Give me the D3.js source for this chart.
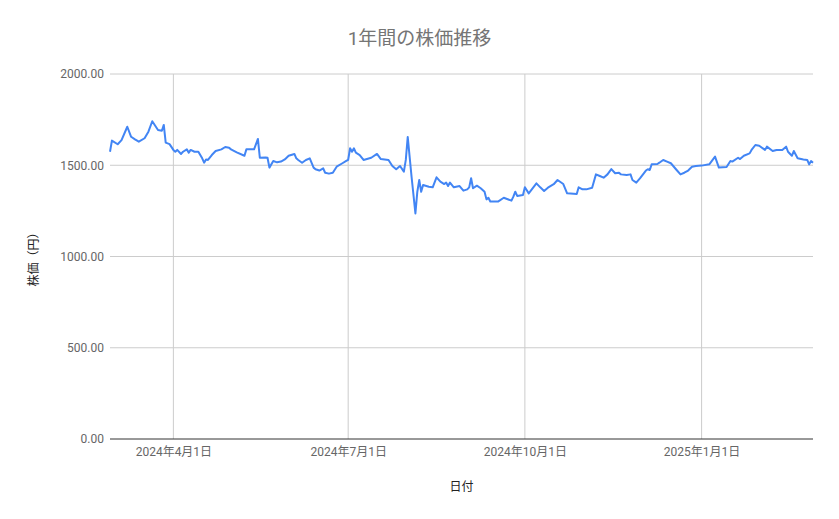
<!DOCTYPE html>
<html>
<head>
<meta charset="utf-8">
<script src="https://cdn.jsdelivr.net/npm/d3@7"></script>
<style>
  body { margin: 0; background: #fff; }
  svg { font-family: Roboto, "Noto Sans CJK JP", sans-serif; }
</style>
</head>
<body>
<svg id="chart" width="839" height="519"></svg>
<script>
// chart data
var titleText = '1年間の株価推移';
var xTitle = '日付';
var yTitle = '株価（円）';

var dates = [
  '2024-02-28','2024-02-29','2024-03-03','2024-03-05','2024-03-08','2024-03-10','2024-03-12','2024-03-14',
  '2024-03-17','2024-03-19','2024-03-21','2024-03-24','2024-03-26','2024-03-27','2024-03-28','2024-03-30',
  '2024-04-01','2024-04-02','2024-04-03','2024-04-05','2024-04-06','2024-04-08','2024-04-09','2024-04-10',
  '2024-04-12','2024-04-14','2024-04-16','2024-04-17','2024-04-18','2024-04-19','2024-04-21','2024-04-23',
  '2024-04-26','2024-04-28','2024-04-30','2024-05-01','2024-05-04','2024-05-08','2024-05-09','2024-05-13',
  '2024-05-15','2024-05-16','2024-05-19','2024-05-20','2024-05-21','2024-05-23','2024-05-25','2024-05-27',
  '2024-05-29','2024-05-31','2024-06-03','2024-06-04','2024-06-05','2024-06-07','2024-06-09','2024-06-11',
  '2024-06-13','2024-06-14','2024-06-16','2024-06-18','2024-06-19','2024-06-21','2024-06-23','2024-06-25',
  '2024-06-28','2024-06-30','2024-07-01','2024-07-02','2024-07-03','2024-07-04','2024-07-05','2024-07-07',
  '2024-07-09','2024-07-13','2024-07-16','2024-07-18','2024-07-22','2024-07-24','2024-07-26','2024-07-28',
  '2024-07-30','2024-07-31','2024-08-01','2024-08-03','2024-08-05','2024-08-06','2024-08-07','2024-08-08',
  '2024-08-09','2024-08-12','2024-08-14','2024-08-16','2024-08-18','2024-08-20','2024-08-21','2024-08-22',
  '2024-08-23','2024-08-25','2024-08-28','2024-08-30','2024-09-01','2024-09-02','2024-09-03','2024-09-04',
  '2024-09-06','2024-09-08','2024-09-10','2024-09-11','2024-09-12','2024-09-13','2024-09-17','2024-09-20',
  '2024-09-24','2024-09-25','2024-09-26','2024-09-27','2024-09-30','2024-10-01','2024-10-03','2024-10-07',
  '2024-10-09','2024-10-11','2024-10-13','2024-10-16','2024-10-18','2024-10-21','2024-10-23','2024-10-28',
  '2024-10-29','2024-10-31','2024-11-02','2024-11-05','2024-11-07','2024-11-09','2024-11-11','2024-11-13',
  '2024-11-15','2024-11-17','2024-11-19','2024-11-20','2024-11-23','2024-11-25','2024-11-26','2024-11-28',
  '2024-11-30','2024-12-03','2024-12-04','2024-12-05','2024-12-06','2024-12-09','2024-12-10','2024-12-12',
  '2024-12-14','2024-12-16','2024-12-19','2024-12-21','2024-12-23','2024-12-25','2024-12-27','2024-12-29',
  '2025-01-01','2025-01-05','2025-01-08','2025-01-10','2025-01-14','2025-01-16','2025-01-17','2025-01-20',
  '2025-01-21','2025-01-23','2025-01-26','2025-01-27','2025-01-29','2025-01-31','2025-02-03','2025-02-04',
  '2025-02-07','2025-02-09','2025-02-12','2025-02-14','2025-02-15','2025-02-17','2025-02-18','2025-02-20',
  '2025-02-23','2025-02-25','2025-02-26','2025-02-27','2025-02-28'
];

var prices = [
  1574,1635,1615,1638,1711,1656,1642,1629,
  1648,1684,1741,1693,1689,1721,1624,1616,
  1584,1574,1584,1562,1574,1587,1569,1584,
  1574,1574,1538,1514,1532,1529,1556,1578,
  1587,1600,1596,1587,1571,1552,1587,1587,
  1644,1541,1543,1541,1487,1523,1516,1520,
  1532,1552,1562,1538,1529,1514,1529,1538,
  1487,1478,1471,1483,1459,1454,1459,1492,
  1511,1524,1530,1593,1574,1593,1569,1556,
  1529,1541,1562,1534,1529,1496,1478,1496,
  1465,1529,1655,1437,1236,1355,1419,1355,
  1392,1382,1379,1434,1410,1397,1405,1386,
  1405,1379,1386,1361,1368,1379,1429,1374,
  1388,1374,1355,1313,1322,1301,1301,1322,
  1306,1328,1355,1332,1337,1379,1346,1401,
  1379,1359,1377,1396,1419,1397,1346,1342,
  1379,1368,1368,1377,1450,1441,1432,1450,
  1479,1456,1459,1450,1447,1450,1419,1405,
  1429,1471,1478,1474,1505,1507,1514,1529,
  1520,1511,1474,1450,1459,1471,1492,1496,
  1498,1505,1547,1487,1490,1523,1520,1541,
  1534,1552,1565,1584,1611,1607,1584,1602,
  1578,1584,1584,1602,1574,1552,1578,1538,
  1532,1529,1505,1523,1514
];

var yTicks = [0, 500, 1000, 1500, 2000];
var xTickDates = ['2024-04-01', '2024-07-01', '2024-10-01', '2025-01-01'];
var xTickLabels = ['2024年4月1日', '2024年7月1日', '2024年10月1日', '2025年1月1日'];

var parseDate = d3.timeParse('%Y-%m-%d');
var points = dates.map(function(d, i) {
  return {date: parseDate(d), value: prices[i]};
});

var margin = {top: 74, right: 26, bottom: 80, left: 110};
var width = 839 - margin.left - margin.right;
var height = 519 - margin.top - margin.bottom;

var svg = d3.select('#chart');

var x = d3.scaleTime()
  .domain(d3.extent(points, function(d) { return d.date; }))
  .range([0, width]);
var y = d3.scaleLinear()
  .domain([0, 2000])
  .range([height, 0]);

var g = svg.append('g').attr('transform', 'translate(' + margin.left + ',' + margin.top + ')');

// horizontal grid
g.selectAll('.hgrid')
  .data(yTicks.filter(function(t) { return t > 0; }))
  .enter().append('line')
  .attr('x1', 0).attr('x2', width)
  .attr('y1', function(d) { return y(d); })
  .attr('y2', function(d) { return y(d); })
  .attr('stroke', '#cccccc')
  .attr('stroke-width', 1);

// vertical grid at month ticks
g.selectAll('.vgrid')
  .data(xTickDates.map(parseDate))
  .enter().append('line')
  .attr('x1', function(d) { return x(d); })
  .attr('x2', function(d) { return x(d); })
  .attr('y1', 0).attr('y2', height)
  .attr('stroke', '#cccccc')
  .attr('stroke-width', 1);

// y axis labels
var yAxis = d3.axisLeft(y)
  .tickValues(yTicks)
  .tickFormat(d3.format('.2f'))
  .tickSize(0)
  .tickPadding(6);
g.append('g').call(yAxis)
  .call(function(a) { a.select('.domain').remove(); })
  .selectAll('text')
  .attr('fill', '#666666')
  .style('font-size', '12px')
  .style('font-family', 'Roboto, sans-serif');

// x axis labels
var xAxis = d3.axisBottom(x)
  .tickValues(xTickDates.map(parseDate))
  .tickFormat(function(d, i) { return xTickLabels[i]; })
  .tickSize(0)
  .tickPadding(8);
g.append('g').attr('transform', 'translate(0,' + height + ')').call(xAxis)
  .call(function(a) { a.select('.domain').remove(); })
  .selectAll('text')
  .attr('fill', '#666666')
  .style('font-size', '12px')
  .style('font-family', 'Roboto, "Noto Sans CJK JP", sans-serif');

// baseline at zero
g.append('line')
  .attr('x1', 0).attr('x2', width)
  .attr('y1', y(0)).attr('y2', y(0))
  .attr('stroke', '#333333')
  .attr('stroke-width', 1);

// price line
var line = d3.line()
  .x(function(d) { return x(d.date); })
  .y(function(d) { return y(d.value); });

g.append('path')
  .datum(points)
  .attr('d', line)
  .attr('fill', 'none')
  .attr('stroke', '#4285f4')
  .attr('stroke-width', 2)
  .attr('stroke-linejoin', 'round');

// titles
svg.append('text')
  .attr('x', 419.5).attr('y', 45)
  .attr('text-anchor', 'middle')
  .attr('fill', '#757575')
  .style('font-size', '19px')
  .text(titleText);

svg.append('text')
  .attr('x', margin.left + width / 2).attr('y', 491)
  .attr('text-anchor', 'middle')
  .attr('fill', '#222222')
  .style('font-size', '12px')
  .text(xTitle);

svg.append('text')
  .attr('transform', 'translate(38,' + (margin.top + height / 2) + ') rotate(-90)')
  .attr('text-anchor', 'middle')
  .attr('fill', '#222222')
  .style('font-size', '12px')
  .text(yTitle);
</script>
</body>
</html>
